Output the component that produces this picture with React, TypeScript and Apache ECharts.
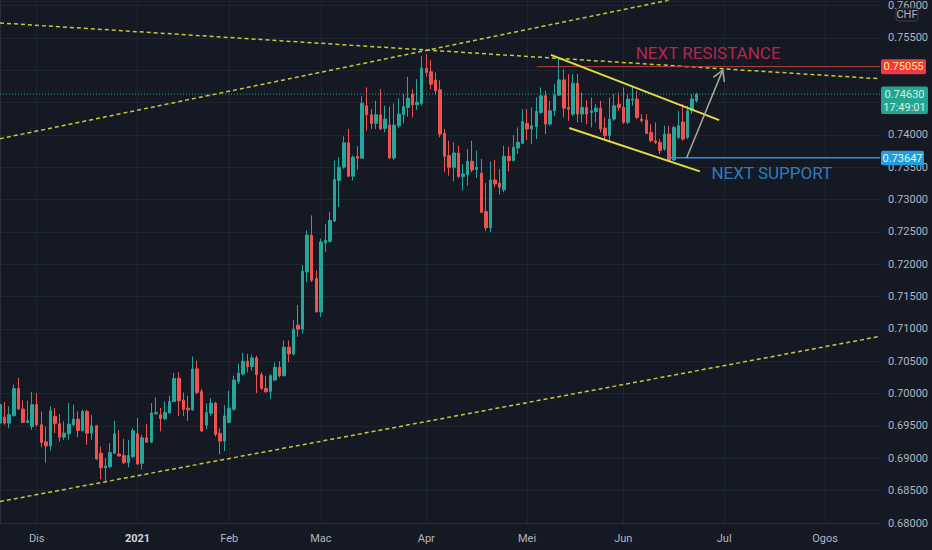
import React, { useEffect, useRef } from "react";
import * as echarts from "echarts";

// ---- axis / calendar ----
const START_DATE = "2020-11-19";
const NO_TRADING_DAYS = ["2020-12-25", "2021-01-01"];
const SLOT_COUNT = 193;
const MONTH_NAMES = ["Jan", "Feb", "Mac", "Apr", "Mei", "Jun", "Jul", "Ogos", "Sep", "Okt", "Nov", "Dis"];
const PRICE_MIN = 0.68;
const PRICE_MAX = 0.7607;
const PRICE_STEP = 0.005;

// ---- daily candles [open, close, low, high] ----
const candlesNov = [
  [0.69544, 0.69829, 0.69518, 0.69855],
  [0.69638, 0.69544, 0.69518, 0.6987],
  [0.69544, 0.69674, 0.69466, 0.69803],
  [0.69658, 0.70078, 0.69648, 0.7014],
  [0.70078, 0.69762, 0.69751, 0.70243],
  [0.69762, 0.69554, 0.69544, 0.69896],
  [0.69554, 0.6958, 0.69544, 0.69891],
  [0.69492, 0.69829, 0.6944, 0.70026],
];
const candlesDec = [
  [0.69829, 0.69518, 0.69492, 0.7001],
  [0.69518, 0.69244, 0.69171, 0.69725],
  [0.69254, 0.69192, 0.68933, 0.69492],
  [0.69192, 0.69736, 0.6912, 0.69803],
  [0.69648, 0.69534, 0.69389, 0.69777],
  [0.69534, 0.69327, 0.69259, 0.69684],
  [0.69327, 0.69389, 0.69285, 0.6957],
  [0.69378, 0.69529, 0.69285, 0.69855],
  [0.69518, 0.69606, 0.69492, 0.69829],
  [0.69606, 0.6943, 0.69327, 0.69725],
  [0.6943, 0.69725, 0.69415, 0.69751],
  [0.69725, 0.69389, 0.69207, 0.69751],
  [0.69389, 0.69503, 0.69285, 0.69674],
  [0.69503, 0.6899, 0.68974, 0.69518],
  [0.69078, 0.68855, 0.68679, 0.69182],
  [0.68855, 0.68881, 0.68638, 0.69],
  [0.68871, 0.69088, 0.68845, 0.69233],
  [0.69078, 0.69378, 0.69067, 0.6958],
  [0.69067, 0.69036, 0.69026, 0.6944],
  [0.69042, 0.68933, 0.68912, 0.69301],
  [0.68933, 0.69042, 0.6886, 0.69285],
  [0.69026, 0.69425, 0.69, 0.69466],
];
const candlesJan = [
  [0.69378, 0.68912, 0.68897, 0.69622],
  [0.68923, 0.69316, 0.68829, 0.69363],
  [0.69316, 0.69249, 0.69244, 0.69534],
  [0.69249, 0.697, 0.69233, 0.69855],
  [0.69689, 0.6971, 0.69674, 0.69943],
  [0.69674, 0.69612, 0.69415, 0.69777],
  [0.69612, 0.6971, 0.69596, 0.6988],
  [0.697, 0.69876, 0.697, 0.69969],
  [0.69876, 0.70233, 0.6987, 0.70321],
  [0.70236, 0.69889, 0.69656, 0.70329],
  [0.69899, 0.69759, 0.69656, 0.70018],
  [0.69775, 0.69749, 0.69578, 0.69966],
  [0.69749, 0.70381, 0.69733, 0.70573],
  [0.70381, 0.70018, 0.69992, 0.7051],
  [0.70034, 0.69423, 0.69407, 0.7007],
  [0.69511, 0.69707, 0.69448, 0.69852],
  [0.69697, 0.69852, 0.69656, 0.6993],
  [0.69852, 0.69371, 0.69334, 0.69873],
  [0.69386, 0.69267, 0.6906, 0.69464],
  [0.69267, 0.69656, 0.69112, 0.69821],
];
const candlesFeb = [
  [0.69552, 0.69775, 0.69542, 0.70044],
  [0.69759, 0.7021, 0.69733, 0.70277],
  [0.70189, 0.70319, 0.70148, 0.70469],
  [0.70303, 0.705, 0.70277, 0.7063],
  [0.705, 0.70417, 0.70329, 0.70614],
  [0.70417, 0.70552, 0.70355, 0.70604],
  [0.70552, 0.70293, 0.70008, 0.70588],
  [0.70293, 0.7008, 0.7006, 0.70329],
  [0.7008, 0.70029, 0.70018, 0.70277],
  [0.70034, 0.70277, 0.69915, 0.70303],
  [0.7021, 0.70407, 0.702, 0.70484],
  [0.70407, 0.70277, 0.70251, 0.705],
  [0.70277, 0.70718, 0.70267, 0.70821],
  [0.70718, 0.70614, 0.70484, 0.70821],
  [0.70614, 0.70996, 0.70588, 0.71135],
  [0.71058, 0.70996, 0.70878, 0.71367],
  [0.70996, 0.71891, 0.7093, 0.71984],
  [0.71881, 0.72447, 0.71727, 0.72524],
  [0.72447, 0.71753, 0.71727, 0.72755],
  [0.71778, 0.71264, 0.71254, 0.71907],
];
const candlesMar = [
  [0.71264, 0.72344, 0.71187, 0.72395],
  [0.72329, 0.7237, 0.7219, 0.72627],
  [0.72354, 0.72678, 0.72334, 0.72807],
  [0.72668, 0.73311, 0.72653, 0.73604],
  [0.73295, 0.73501, 0.72884, 0.73655],
  [0.73501, 0.73877, 0.73475, 0.73979],
  [0.73877, 0.73362, 0.73347, 0.74093],
  [0.73362, 0.73655, 0.73295, 0.73681],
  [0.73666, 0.7364, 0.73465, 0.73825],
  [0.7364, 0.74489, 0.7363, 0.74597],
  [0.7445, 0.74311, 0.74064, 0.74733],
  [0.74311, 0.74178, 0.7409, 0.74399],
  [0.74178, 0.74311, 0.7409, 0.74527],
  [0.74311, 0.7409, 0.74075, 0.74707],
  [0.741, 0.74244, 0.74039, 0.7445],
  [0.74152, 0.73643, 0.73627, 0.74435],
  [0.73643, 0.74152, 0.73612, 0.74486],
  [0.74142, 0.74322, 0.74105, 0.74568],
  [0.74311, 0.74435, 0.74178, 0.7463],
  [0.74424, 0.74568, 0.7428, 0.74898],
  [0.7463, 0.74466, 0.7427, 0.74707],
  [0.74466, 0.74502, 0.74383, 0.74862],
  [0.74486, 0.75031, 0.7445, 0.75222],
];
const candlesApr = [
  [0.75031, 0.74964, 0.74898, 0.75247],
  [0.74975, 0.74784, 0.74707, 0.75155],
  [0.74846, 0.74682, 0.7462, 0.74964],
  [0.74697, 0.74013, 0.73962, 0.74846],
  [0.74023, 0.73668, 0.73422, 0.7409],
  [0.73679, 0.73499, 0.7337, 0.7391],
  [0.73499, 0.7372, 0.73283, 0.73885],
  [0.7372, 0.73355, 0.73334, 0.73833],
  [0.73355, 0.73396, 0.7314, 0.7355],
  [0.73386, 0.73591, 0.73216, 0.73782],
  [0.73591, 0.73458, 0.73422, 0.7391],
  [0.73468, 0.73499, 0.73334, 0.73756],
  [0.73406, 0.72804, 0.72789, 0.73627],
  [0.72815, 0.72563, 0.72511, 0.73252],
  [0.72563, 0.73303, 0.72496, 0.73591],
  [0.73303, 0.73242, 0.7319, 0.73612],
  [0.73252, 0.7319, 0.73077, 0.73473],
  [0.7315, 0.73668, 0.73113, 0.73833],
  [0.73668, 0.73602, 0.73437, 0.73817],
  [0.73602, 0.73807, 0.73591, 0.73998],
  [0.73797, 0.73885, 0.73705, 0.74116],
  [0.73869, 0.74208, 0.73859, 0.74399],
];
const candlesMay = [
  [0.74178, 0.7409, 0.7392, 0.74399],
  [0.7409, 0.74141, 0.73858, 0.74424],
  [0.74125, 0.74362, 0.73935, 0.74578],
  [0.74347, 0.74604, 0.74321, 0.74732],
  [0.74604, 0.74167, 0.74012, 0.74681],
  [0.74167, 0.74372, 0.74141, 0.74527],
  [0.74372, 0.74614, 0.74295, 0.74784],
  [0.74614, 0.7485, 0.74604, 0.75195],
  [0.7485, 0.74413, 0.7427, 0.75015],
  [0.74424, 0.74398, 0.74218, 0.74938],
  [0.74321, 0.74799, 0.74295, 0.74938],
  [0.74799, 0.74321, 0.74192, 0.74938],
  [0.74321, 0.74424, 0.74192, 0.74655],
  [0.74424, 0.74321, 0.74167, 0.74537],
  [0.74347, 0.74372, 0.74115, 0.74578],
  [0.74362, 0.74413, 0.74192, 0.74475],
  [0.74413, 0.7409, 0.74038, 0.74527],
  [0.74105, 0.73987, 0.73935, 0.7427],
  [0.73987, 0.74244, 0.73884, 0.74578],
  [0.74244, 0.7445, 0.74218, 0.7463],
  [0.74475, 0.74424, 0.74373, 0.74655],
];
const candlesJun = [
  [0.74424, 0.74193, 0.74167, 0.74733],
  [0.74193, 0.74553, 0.74167, 0.7463],
  [0.74537, 0.74553, 0.7445, 0.74758],
  [0.74552, 0.7427, 0.74244, 0.74681],
  [0.74244, 0.74218, 0.74192, 0.74321],
  [0.74228, 0.74023, 0.74012, 0.74321],
  [0.74038, 0.7391, 0.73884, 0.74167],
  [0.7391, 0.73884, 0.73858, 0.74192],
  [0.73884, 0.73755, 0.73704, 0.73935],
  [0.73781, 0.74012, 0.73755, 0.74141],
  [0.74012, 0.73601, 0.73591, 0.74141],
  [0.73611, 0.74115, 0.73601, 0.74141],
  [0.73961, 0.74141, 0.73935, 0.74372],
  [0.742, 0.73935, 0.7391, 0.74475],
  [0.73961, 0.74372, 0.73935, 0.7445],
  [0.74372, 0.74553, 0.74321, 0.7463],
  [0.74527, 0.7463, 0.74501, 0.74655],
];

// ---- drawings (bar index, price) ----
const risingTopLine = [[0, 0.73941], [150, 0.76142]];
const fallingTopLine = [[0, 0.7573], [192, 0.74867]];
const risingBottomLine = [[0, 0.68332], [192, 0.70885]];
const channelUpper = [[120.2, 0.75237], [156.9, 0.74229]];
const channelLower = [[124.2, 0.74106], [152.7, 0.73436]];
const RESISTANCE = 0.75055;
const RESISTANCE_FROM = 117.1;
const SUPPORT = 0.73647;
const SUPPORT_FROM = 145.8;
const LAST_PRICE = 0.7463;
const COUNTDOWN = "17:49:01";
const CURRENCY = "CHF";
const arrowPath = [[149.8, 0.73643], [157.7, 0.75001]];
const noteResistance = { text: "NEXT RESISTANCE", at: [154.5, 0.75268] };
const noteSupport = { text: "NEXT SUPPORT", at: [168.4, 0.73416] };

// ---- styles ----
const BG = "#151924";
const GRID_C = "#1f2431";
const AXIS_C = "#2a2e39";
const TEXT_C = "#b2b5be";
const UP = "#26a69a";
const DOWN = "#ef5350";
const FONT = "Roboto, 'Noto Sans', sans-serif";

function buildSlots(): string[] {
  const out: string[] = [];
  const d = new Date(START_DATE + "T00:00:00Z");
  while (out.length < SLOT_COUNT) {
    const wd = d.getUTCDay();
    const iso = d.toISOString().slice(0, 10);
    if (wd !== 0 && wd !== 6 && !NO_TRADING_DAYS.includes(iso)) out.push(iso);
    d.setUTCDate(d.getUTCDate() + 1);
  }
  return out;
}

export default function App() {
  const ref = useRef<HTMLDivElement>(null);

  useEffect(() => {
    document.body.style.margin = "0";
    document.body.style.background = BG;
    if (!ref.current) return;
    const chart = echarts.init(ref.current, null, { renderer: "svg" });

    const slots = buildSlots();
    const candles = [
      ...candlesNov, ...candlesDec, ...candlesJan, ...candlesFeb,
      ...candlesMar, ...candlesApr, ...candlesMay, ...candlesJun,
    ];
    const lastSlot = SLOT_COUNT - 1;
    const isMonthStart = (i: number) => i > 0 && slots[i].slice(5, 7) !== slots[i - 1].slice(5, 7);

    // price per pixel of the plot, used to hide axis labels sitting under the price tags
    const plotH = 550 - 27;
    const pricePerPx = (PRICE_MAX - PRICE_MIN) / plotH;
    const tagBands = [
      { p: RESISTANCE, up: 7.5, down: 7.5 },
      { p: LAST_PRICE, up: 7.5, down: 20 },
    ];
    const underTag = (v: number) =>
      tagBands.some((t) => {
        const dy = (t.p - v) / pricePerPx; // >0 means label below tag centre
        return dy > -(t.up + 5) && dy < t.down + 5;
      });

    const line = (data: number[][], color: string, width: number, type: any) => ({
      type: "line",
      xAxisIndex: 1,
      yAxisIndex: 0,
      data,
      symbol: "none",
      showSymbol: false,
      silent: true,
      clip: true,
      z: 3,
      lineStyle: { color, width, type },
    });

    const dash = [4, 3];

    chart.setOption({
      animation: false,
      backgroundColor: BG,
      textStyle: { fontFamily: FONT },
      grid: { left: 0, right: 52, top: 0, bottom: 27 },
      xAxis: [
        {
          type: "category",
          data: slots,
          boundaryGap: false,
          axisLine: { show: true, lineStyle: { color: AXIS_C } },
          axisTick: { show: false },
          axisLabel: {
            interval: (i: number) => isMonthStart(i),
            color: TEXT_C,
            fontSize: 11,
            margin: 10,
            fontFamily: FONT,
            formatter: (v: string) => {
              const m = +v.slice(5, 7);
              return m === 1 ? `{y|${v.slice(0, 4)}}` : MONTH_NAMES[m - 1];
            },
            rich: { y: { fontWeight: "bold", color: "#d1d4dc", fontSize: 11, fontFamily: FONT } },
          },
          splitLine: { show: true, interval: (i: number) => isMonthStart(i), lineStyle: { color: GRID_C } },
        },
        { type: "value", min: 0, max: lastSlot, show: false },
      ],
      yAxis: {
        type: "value",
        position: "right",
        min: PRICE_MIN,
        max: PRICE_MAX,
        interval: PRICE_STEP,
        axisLine: { show: true, lineStyle: { color: AXIS_C } },
        axisTick: { show: false },
        axisLabel: {
          color: TEXT_C,
          fontSize: 11,
          margin: 8,
          fontFamily: FONT,
          formatter: (v: number) => {
            const k = v / PRICE_STEP;
            if (Math.abs(k - Math.round(k)) > 1e-6) return "";
            if (underTag(v)) return "";
            return v.toFixed(5);
          },
        },
        splitLine: { show: true, lineStyle: { color: GRID_C } },
      },
      series: [
        {
          type: "candlestick",
          data: candles,
          barWidth: 3,
          z: 2,
          itemStyle: { color: UP, color0: DOWN, borderColor: UP, borderColor0: DOWN, borderWidth: 1 },
        },
        line([[0, LAST_PRICE], [lastSlot, LAST_PRICE]], UP, 1, [1, 2]),
        line(risingTopLine, "#c9c83a", 1.5, dash),
        line(fallingTopLine, "#c9c83a", 1.5, dash),
        line(risingBottomLine, "#c9c83a", 1.5, dash),
        line([[RESISTANCE_FROM, RESISTANCE], [lastSlot, RESISTANCE]], "#b8403d", 1, "solid"),
        line([[SUPPORT_FROM, SUPPORT], [lastSlot, SUPPORT]], "#2f8fe0", 1.5, "solid"),
        line(channelUpper, "#e2dc44", 2, "solid"),
        line(channelLower, "#e2dc44", 2, "solid"),
        line(arrowPath, "#a9aa9c", 1.5, "solid"),
        {
          type: "scatter",
          xAxisIndex: 1,
          yAxisIndex: 0,
          symbol: "circle",
          symbolSize: 1,
          silent: true,
          z: 5,
          itemStyle: { color: "rgba(0,0,0,0)" },
          label: { show: true, position: "inside", fontSize: 17, fontFamily: FONT },
          data: [
            { value: noteResistance.at, label: { formatter: noteResistance.text, color: "#df2a5c" } },
            { value: noteSupport.at, label: { formatter: noteSupport.text, color: "#3398e6" } },
          ],
        },
      ],
    });

    // overlays positioned from the axes
    const toPx = (pt: number[]) => chart.convertToPixel({ seriesIndex: 1 }, pt) as number[];
    const yOf = (p: number) => toPx([0, p])[1];
    const axisX = chart.getWidth() - 52;

    const [sx, sy] = toPx(arrowPath[0]);
    const [tx, ty] = toPx(arrowPath[1]);
    const len = Math.hypot(sx - tx, sy - ty);
    const ux = (sx - tx) / len;
    const uy = (sy - ty) / len;
    const wing = (deg: number) => {
      const a = (deg * Math.PI) / 180;
      const c = Math.cos(a);
      const s = Math.sin(a);
      return [tx + (ux * c - uy * s) * 12, ty + (ux * s + uy * c) * 12];
    };

    const yR = yOf(RESISTANCE);
    const yL = yOf(LAST_PRICE);
    const yS = yOf(SUPPORT);
    const tagText = (fill: string, text: string, x: number, y: number) => ({
      type: "text",
      x,
      y,
      z: 101,
      style: { text, fill, fontSize: 11, fontFamily: FONT, align: "center", verticalAlign: "middle" },
    });

    chart.setOption({
      graphic: [
        {
          type: "polyline",
          z: 4,
          shape: { points: [wing(30), [tx, ty], wing(-30)] },
          style: { stroke: "#a9aa9c", lineWidth: 1.5, fill: "none" },
        },
        { type: "rect", z: 100, shape: { x: axisX + 1, y: yR - 7.5, width: 45, height: 15, r: 2 }, style: { fill: "#f23645" } },
        tagText("#fff27a", RESISTANCE.toFixed(5), axisX + 23.5, yR),
        { type: "rect", z: 100, shape: { x: axisX + 1, y: yL - 7.5, width: 47, height: 27.5, r: 2 }, style: { fill: "#22a592" } },
        tagText("#d9f2dc", LAST_PRICE.toFixed(5), axisX + 24.5, yL + 0.5),
        tagText("#d9f2dc", COUNTDOWN, axisX + 24.5, yL + 13),
        { type: "rect", z: 100, shape: { x: axisX + 1, y: yS - 7, width: 43, height: 14.5, r: 2 }, style: { fill: "#1f9ee3" } },
        tagText("#e4f6c4", SUPPORT.toFixed(5), axisX + 22.5, yS + 0.5),
        {
          type: "rect",
          z: 100,
          shape: { x: axisX + 16, y: 8, width: 22, height: 13, r: 3 },
          style: { fill: BG, stroke: "#3a3e4a", lineWidth: 1 },
        },
        tagText(TEXT_C, CURRENCY, axisX + 27, 14.5),
      ],
    });

    return () => chart.dispose();
  }, []);

  return <div ref={ref} style={{ position: "absolute", left: 0, top: 0, width: 932, height: 550 }} />;
}
